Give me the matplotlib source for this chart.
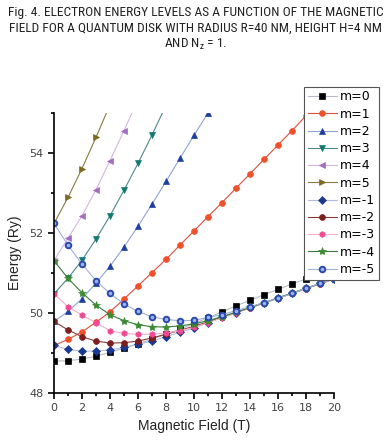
import numpy as np
import matplotlib
matplotlib.use("Agg")
import matplotlib.pyplot as plt
from matplotlib.ticker import MultipleLocator
from matplotlib import font_manager

plt.rcParams["font.family"] = ["Liberation Sans", "DejaVu Sans"]

# magnetic field (T)
field = np.arange(0, 21)

# energy levels (Ry); series stop just past the top of the axes
e_m0 = [48.79, 48.80, 48.84, 48.91, 49.01, 49.11, 49.22, 49.34, 49.46, 49.59, 49.73,
        49.87, 50.02, 50.17, 50.31, 50.45, 50.58, 50.72, 50.84, 50.97, 51.10]
e_m1 = [49.18, 49.33, 49.52, 49.76, 50.02, 50.34, 50.67, 51.00, 51.33, 51.69, 52.04,
        52.40, 52.75, 53.11, 53.47, 53.83, 54.19, 54.55, 54.92, 55.28]
e_m2 = [49.78, 50.03, 50.35, 50.74, 51.16, 51.64, 52.16, 52.71, 53.28, 53.86, 54.43,
        54.99, 55.56]
e_m3 = [50.47, 50.86, 51.31, 51.84, 52.42, 53.06, 53.73, 54.44, 55.18]
e_m4 = [51.30, 51.86, 52.42, 53.07, 53.80, 54.55, 55.32]
e_m5 = [52.23, 52.88, 53.60, 54.38, 55.20]
e_mn1 = [49.18, 49.08, 49.04, 49.04, 49.07, 49.13, 49.21, 49.29, 49.40, 49.51, 49.62,
         49.75, 49.88, 50.00, 50.13, 50.25, 50.37, 50.49, 50.61, 50.73, 50.85]
e_mn2 = [49.78, 49.57, 49.40, 49.29, 49.24, 49.25, 49.29, 49.37, 49.46, 49.56, 49.66,
         49.77, 49.89, 50.00, 50.12, 50.24, 50.36, 50.48, 50.60, 50.72, 50.84]
e_mn3 = [50.47, 50.15, 49.94, 49.75, 49.55, 49.48, 49.46, 49.46, 49.49, 49.55, 49.63,
         49.75, 49.87, 49.99, 50.12, 50.24, 50.36, 50.48, 50.60, 50.72, 50.84]
e_mn4 = [51.30, 50.86, 50.50, 50.19, 49.95, 49.80, 49.70, 49.65, 49.64, 49.67, 49.72,
         49.80, 49.90, 50.01, 50.13, 50.25, 50.37, 50.49, 50.61, 50.73, 50.85]
e_mn5 = [52.23, 51.69, 51.22, 50.80, 50.48, 50.22, 50.03, 49.90, 49.83, 49.80, 49.81,
         49.88, 49.95, 50.05, 50.15, 50.25, 50.36, 50.48, 50.61, 50.73, 50.84]

labels = ["m=0", "m=1", "m=2", "m=3", "m=4", "m=5",
          "m=-1", "m=-2", "m=-3", "m=-4", "m=-5"]
series = [e_m0, e_m1, e_m2, e_m3, e_m4, e_m5, e_mn1, e_mn2, e_mn3, e_mn4, e_mn5]

# style per level: marker, face colour, edge colour, line colour
styles = [
    ("s", "#000000", "#000000", "#b8bcc8"),
    ("o", "#f0502a", "#f0502a", "#d8503c"),
    ("^", "#1f3fa0", "#1f3fa0", "#8ea4d8"),
    ("v", "#137a72", "#137a72", "#4a8a88"),
    ("<", "#a46cc0", "#a46cc0", "#d4b6e0"),
    (">", "#7c6a22", "#7c6a22", "#8a7a40"),
    ("D", "#1a3a90", "#1a3a90", "#b4bedc"),
    ("o", "#7a1e1e", "#7a1e1e", "#8a3a3a"),
    ("h", "#f04a94", "#f04a94", "#f2b0c8"),
    ("*", "#3a8a30", "#3a8a30", "#3a7a3a"),
    ("o", "#9fb2e6", "#2a4ab0", "#a0b0d8"),
]

# narrow face for the caption if there is one
installed = {f.name for f in font_manager.fontManager.ttflist}
narrow = None
for name in ["Liberation Sans Narrow", "Roboto Condensed", "Open Sans Condensed",
             "DejaVu Sans Condensed"]:
    if name in installed:
        narrow = name
        break

fig = plt.figure(figsize=(3.91, 4.40), dpi=100)
ax = fig.add_axes([0.138, 0.1075, 0.716, 0.6364])

for vals, lab, (mk, fc, ec, lc) in zip(series, labels, styles):
    ms = 4.2
    mew = 0.5
    if mk in ("^", "v", "<", ">"):
        ms = 5.0
    elif mk == "*":
        ms = 6.0
    elif mk == "D":
        ms = 3.8
    if fc != ec:
        ms = 4.0
        mew = 1.4
    ax.plot(field[:len(vals)], vals, color=lc, linewidth=0.8, marker=mk, markersize=ms,
            markerfacecolor=fc, markeredgecolor=ec, markeredgewidth=mew, label=lab)

ax.set_xlim(0, 20)
ax.set_ylim(48, 55)
ax.xaxis.set_major_locator(MultipleLocator(2))
ax.xaxis.set_minor_locator(MultipleLocator(1))
ax.yaxis.set_major_locator(MultipleLocator(2))
ax.yaxis.set_minor_locator(MultipleLocator(1))
ax.spines["top"].set_visible(False)
ax.spines["right"].set_visible(False)
for sp in ("left", "bottom"):
    ax.spines[sp].set_linewidth(1.2)
ax.tick_params(which="major", direction="out", length=4, width=1.2,
               labelsize=8, labelcolor="#444444")
ax.tick_params(which="minor", direction="out", length=2.5, width=1.2)
for t in ax.get_xticklabels() + ax.get_yticklabels():
    t.set_family("DejaVu Sans")

ax.set_xlabel("Magnetic Field (T)", fontsize=10, color="#222222", labelpad=4)
ax.set_ylabel("Energy (Ry)", fontsize=10, color="#222222", labelpad=5)

leg = ax.legend(loc="upper right", bbox_to_anchor=(1.162, 1.093), borderaxespad=0,
                labelspacing=0.34, handlelength=2.3, handletextpad=0.3,
                borderpad=0.3, frameon=True, fancybox=False, framealpha=1,
                edgecolor="#555555", prop={"family": "DejaVu Sans", "size": 9})
leg.get_frame().set_linewidth(0.8)
leg.set_zorder(10)

title = ("Fig. 4. ELECTRON ENERGY LEVELS AS A FUNCTION OF THE MAGNETIC\n"
         "FIELD FOR A QUANTUM DISK WITH RADIUS R=40 NM, HEIGHT H=4 NM\n"
         r"AND $\mathregular{N_z}$ = 1.")
tfam = [narrow, "DejaVu Sans"] if narrow else ["Liberation Sans", "DejaVu Sans"]
cap = fig.text(0.5, 0.986, title, ha="center", va="top", fontsize=9, linespacing=1.22,
               family=tfam, color="#222222")

# size the caption so its widest line spans about 377 px, as in the original
renderer = fig.canvas.get_renderer()
w = cap.get_window_extent(renderer).width
cap.set_fontsize(9 * 377.0 / w)

fig.savefig("out.png", dpi=100)
